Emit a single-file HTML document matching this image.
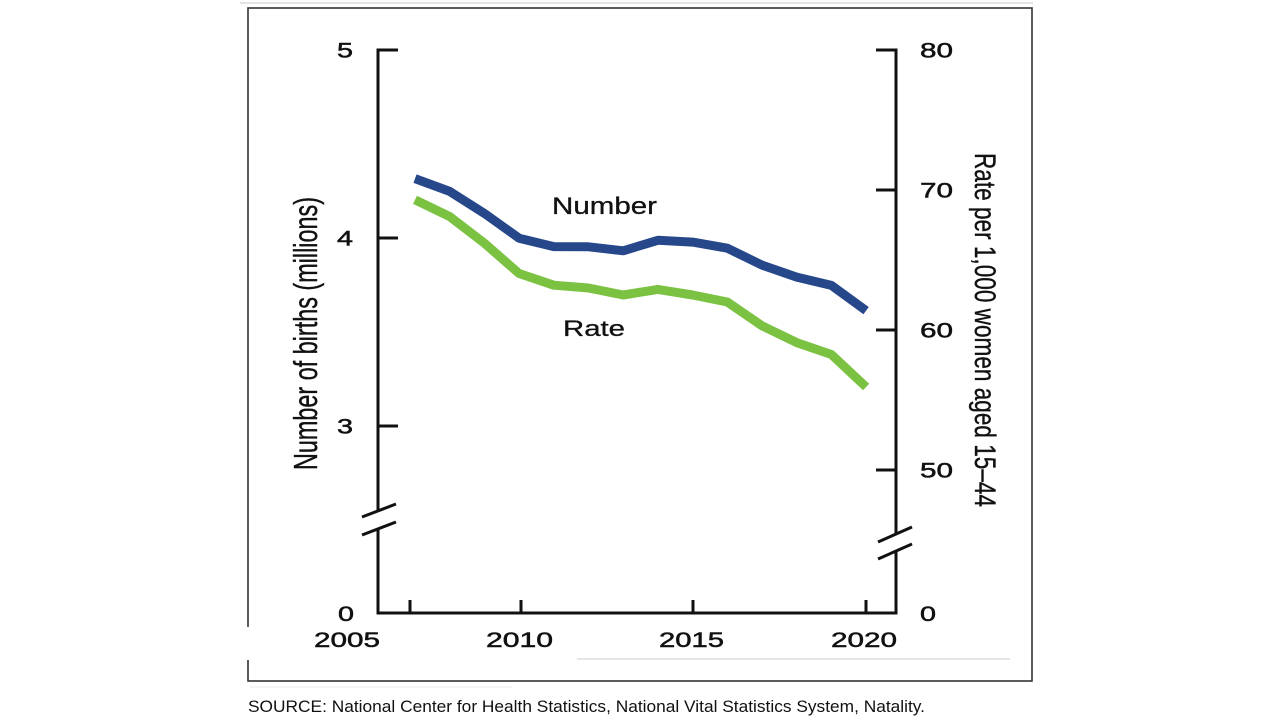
<!DOCTYPE html>
<html>
<head>
<meta charset="utf-8">
<style>
  html, body { margin: 0; padding: 0; background: #fff; }
  body { width: 1280px; height: 720px; overflow: hidden; position: relative; }
  svg { position: absolute; left: 0; top: 0; }
  text { font-family: "Liberation Sans", Arial, sans-serif; fill: #111; }
</style>
</head>
<body>
<svg width="1280" height="720" viewBox="0 0 1280 720" xmlns="http://www.w3.org/2000/svg">
  <!-- faint top line -->
  <line x1="240" y1="3" x2="1033" y2="3" stroke="#dcdcdc" stroke-width="1.5"/>
  <!-- frame -->
  <rect x="248" y="8" width="784" height="673" fill="none" stroke="#333" stroke-width="1.6"/>
  <rect x="245" y="627" width="6" height="33" fill="#fff"/>
  <line x1="577" y1="659" x2="1010" y2="659" stroke="#d8d8d8" stroke-width="1.2"/>
  <line x1="250" y1="687" x2="512" y2="687" stroke="#ececec" stroke-width="1"/>

  <!-- left axis -->
  <g stroke="#111" stroke-width="3" fill="none">
    <line x1="378" y1="48.5" x2="378" y2="510"/>
    <line x1="378" y1="528" x2="378" y2="614.5"/>
    <line x1="376.5" y1="50" x2="398" y2="50"/>
    <line x1="378" y1="238" x2="398" y2="238"/>
    <line x1="378" y1="426" x2="398" y2="426"/>
    <line x1="362" y1="517" x2="396" y2="504"/>
    <line x1="362" y1="535" x2="396" y2="522"/>
    <!-- right axis -->
    <line x1="896" y1="48.5" x2="896" y2="535"/>
    <line x1="896" y1="552" x2="896" y2="614.5"/>
    <line x1="876" y1="50" x2="897.5" y2="50"/>
    <line x1="876" y1="190" x2="896" y2="190"/>
    <line x1="876" y1="330" x2="896" y2="330"/>
    <line x1="876" y1="470" x2="896" y2="470"/>
    <line x1="878" y1="542" x2="912" y2="527"/>
    <line x1="878" y1="559" x2="912" y2="544"/>
    <!-- x axis -->
    <line x1="376.5" y1="613" x2="897.5" y2="613"/>
    <line x1="410" y1="613" x2="410" y2="600"/>
    <line x1="521" y1="613" x2="521" y2="600"/>
    <line x1="693" y1="613" x2="693" y2="600"/>
    <line x1="866" y1="613" x2="866" y2="600"/>
  </g>

  <!-- series -->
  <polyline fill="none" stroke="#26488b" stroke-width="9" stroke-linejoin="round" stroke-linecap="butt"
    points="415,178.6 449.7,191.4 484.4,213.4 519.1,238.2 553.8,246.6 588.5,246.8 623.2,250.8 657.9,240.3 692.6,242.1 727.3,248.2 762,265.1 796.7,277.1 831.4,285.4 866.1,310.6"/>
  <polyline fill="none" stroke="#7cc242" stroke-width="9" stroke-linejoin="round" stroke-linecap="butt"
    points="415,199.8 449.7,216.6 484.4,243.2 519.1,273.5 553.8,285.2 588.5,288 623.2,295 657.9,289.4 692.6,295 727.3,302 762,325.8 796.7,342.6 831.4,354.5 866.1,387"/>

  <!-- tick labels -->
  <g font-size="21" stroke="#111" stroke-width="0.5">
    <text x="337" y="57.5" textLength="16" lengthAdjust="spacingAndGlyphs">5</text>
    <text x="337" y="245.5" textLength="16" lengthAdjust="spacingAndGlyphs">4</text>
    <text x="337" y="433.5" textLength="16" lengthAdjust="spacingAndGlyphs">3</text>
    <text x="338" y="621" textLength="16" lengthAdjust="spacingAndGlyphs">0</text>
    <text x="920" y="57.5" textLength="33" lengthAdjust="spacingAndGlyphs">80</text>
    <text x="920" y="197.5" textLength="33" lengthAdjust="spacingAndGlyphs">70</text>
    <text x="920" y="337.5" textLength="33" lengthAdjust="spacingAndGlyphs">60</text>
    <text x="920" y="477.5" textLength="33" lengthAdjust="spacingAndGlyphs">50</text>
    <text x="920" y="621" textLength="16" lengthAdjust="spacingAndGlyphs">0</text>
    <text x="314" y="647" textLength="66" lengthAdjust="spacingAndGlyphs">2005</text>
    <text x="486" y="647" textLength="67" lengthAdjust="spacingAndGlyphs">2010</text>
    <text x="659" y="647" textLength="65" lengthAdjust="spacingAndGlyphs">2015</text>
    <text x="831" y="647" textLength="66" lengthAdjust="spacingAndGlyphs">2020</text>
  </g>

  <!-- series labels -->
  <text x="552" y="214" font-size="24" textLength="105" lengthAdjust="spacingAndGlyphs" stroke="#111" stroke-width="0.3">Number</text>
  <text x="563" y="336" font-size="22" textLength="62" lengthAdjust="spacingAndGlyphs" stroke="#111" stroke-width="0.3">Rate</text>

  <!-- axis titles -->
  <g transform="translate(317,333.5) rotate(-90) scale(1,1.38)">
    <text x="0" y="0" font-size="24" text-anchor="middle" textLength="273" lengthAdjust="spacingAndGlyphs" stroke="#111" stroke-width="0.3">Number of births (millions)</text>
  </g>
  <g transform="translate(975,330) rotate(90) scale(1,1.25)">
    <text x="0" y="0" font-size="24" text-anchor="middle" textLength="354" lengthAdjust="spacingAndGlyphs" stroke="#111" stroke-width="0.3">Rate per 1,000 women aged 15–44</text>
  </g>

  <!-- source -->
  <text x="248" y="712" font-size="17" textLength="677" lengthAdjust="spacingAndGlyphs">SOURCE: National Center for Health Statistics, National Vital Statistics System, Natality.</text>
</svg>
</body>
</html>
